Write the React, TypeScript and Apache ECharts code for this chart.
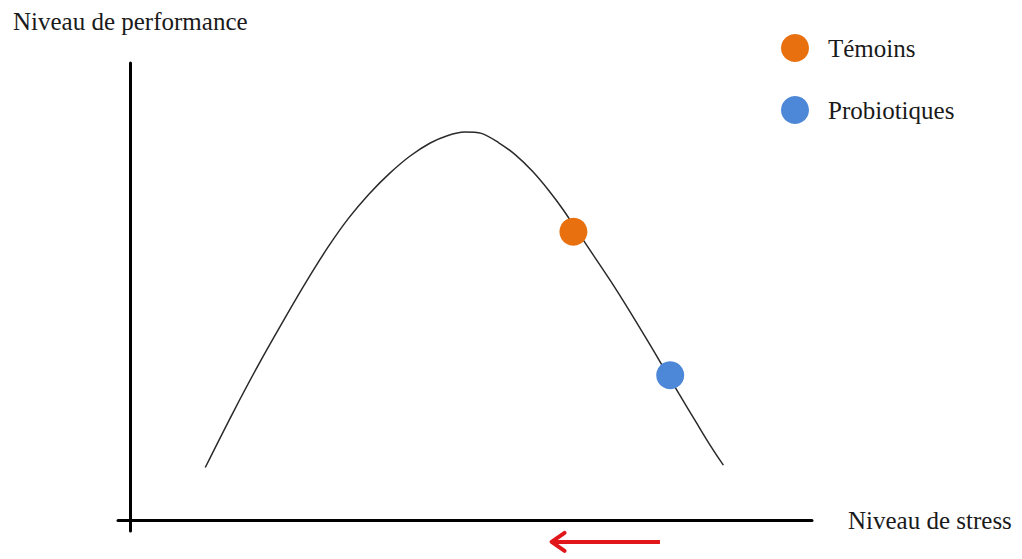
import React, { useEffect, useRef } from "react";
import * as echarts from "echarts";

// Curve (stress level vs performance level)
const curveX = [11, 15, 19, 23, 26, 29, 32, 35, 38, 41, 44, 46.5, 49, 51.5, 54, 56.5, 59, 61.5, 63.5, 65.5, 68, 70.5, 73, 75.5, 78, 80.5, 83, 85, 87];
const curveY = [11.5, 23.3, 34.5, 45, 52.6, 59.7, 66, 71.3, 75.8, 79.6, 82.5, 84.1, 84.9, 84.6, 82.6, 79.9, 76.3, 71.9, 67.9, 63.4, 57.8, 52.2, 46.3, 40.2, 33.9, 27.6, 21.4, 16.5, 12];

const seriesNames = ["Témoins", "Probiotiques"];
const temoinsPoint = [[65, 63.1]];
const probiotiquesPoint = [[79.2, 31.7]];

const xAxisName = "Niveau de stress";
const yAxisName = "Niveau de performance";

// Red arrow under the x axis (from -> to)
const arrowFrom = [77.7, -4.8];
const arrowTo = [61.8, -4.8];

export default function App() {
  const ref = useRef<HTMLDivElement>(null);
  useEffect(() => {
    document.body.style.margin = "0";
    const chart = echarts.init(ref.current!, null, { renderer: "svg" });
    const font = "'Liberation Serif', 'Times New Roman', serif";
    chart.setOption({
      animation: false,
      backgroundColor: "#ffffff",
      grid: { left: 118, right: 210, top: 63, bottom: 28 },
      legend: {
        data: seriesNames,
        orient: "vertical",
        left: 776,
        top: 29,
        icon: "circle",
        itemWidth: 28,
        itemHeight: 28,
        itemGap: 34,
        textStyle: { fontFamily: font, fontSize: 25, color: "#1a1a1a", padding: [0, 0, 0, 14] },
      },
      xAxis: {
        type: "value",
        min: -1.8,
        max: 100,
        name: xAxisName,
        nameLocation: "end",
        nameGap: 36,
        nameTextStyle: { fontFamily: font, fontSize: 25, color: "#1a1a1a" },
        axisLine: { onZero: true, lineStyle: { color: "#000", width: 3 } },
        axisTick: { show: false },
        axisLabel: { show: false },
        splitLine: { show: false },
      },
      yAxis: {
        type: "value",
        min: -2.4,
        max: 100,
        name: yAxisName,
        nameLocation: "end",
        nameGap: 29,
        nameTextStyle: { fontFamily: font, fontSize: 25, color: "#1a1a1a" },
        axisLine: { onZero: true, lineStyle: { color: "#000", width: 3 } },
        axisTick: { show: false },
        axisLabel: { show: false },
        splitLine: { show: false },
      },
      series: [
        {
          type: "line",
          name: "courbe",
          data: curveX.map((x, i) => [x, curveY[i]]),
          smooth: 0.3,
          showSymbol: false,
          lineStyle: { color: "#2a2a2a", width: 1.5 },
          z: 1,
        },
        {
          type: "scatter",
          name: seriesNames[0],
          data: temoinsPoint,
          symbol: "circle",
          symbolSize: 28,
          itemStyle: { color: "#e8700e", opacity: 1 },
          z: 3,
        },
        {
          type: "scatter",
          name: seriesNames[1],
          data: probiotiquesPoint,
          symbol: "circle",
          symbolSize: 28,
          itemStyle: { color: "#4d87d8", opacity: 1 },
          z: 3,
        },
      ],
    });
    const a = chart.convertToPixel({ gridIndex: 0 }, arrowFrom) as number[];
    const b = chart.convertToPixel({ gridIndex: 0 }, arrowTo) as number[];
    chart.setOption({
      graphic: [
        {
          type: "line",
          shape: { x1: a[0], y1: a[1], x2: b[0] + 2, y2: b[1] },
          style: { stroke: "#e0161b", lineWidth: 4 },
        },
        {
          type: "polyline",
          shape: { points: [[b[0] + 13, b[1] - 9], [b[0], b[1]], [b[0] + 13, b[1] + 9]] },
          style: { stroke: "#e0161b", lineWidth: 4, fill: "none", lineCap: "round", lineJoin: "round" },
        },
      ],
    });
    return () => chart.dispose();
  }, []);
  return <div ref={ref} style={{ width: 1022, height: 559 }} />;
}
